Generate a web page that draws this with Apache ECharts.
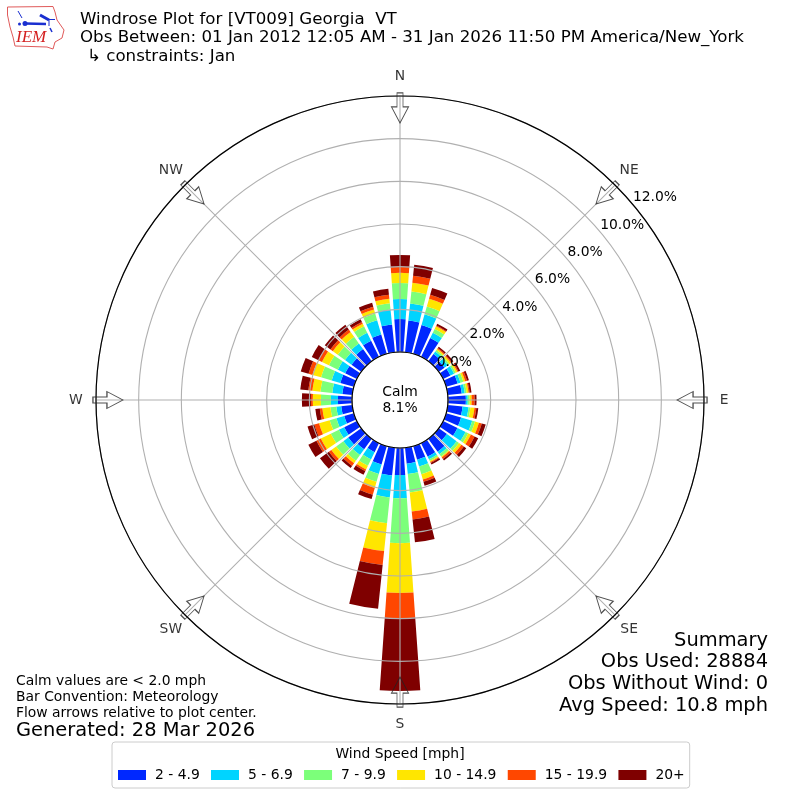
<!DOCTYPE html>
<html><head><meta charset="utf-8">
<style>html,body{margin:0;padding:0;background:#fff}#c{width:800px;height:800px}</style>
<script src="https://cdn.jsdelivr.net/npm/echarts@6/dist/echarts.min.js"></script>
</head><body><div id="c"></div>
<script>
const directions = [0,10,20,30,40,50,60,70,80,90,100,110,120,130,140,150,160,170,180,190,200,210,220,230,240,250,260,270,280,290,300,310,320,330,340,350];
const speedNames = ['2 - 4.9','5 - 6.9','7 - 9.9','10 - 14.9','15 - 19.9','20+'];
const speedColors = ['#0028ff','#00d4ff','#7cff7a','#ffe600','#ff4700','#7f0000'];
const s2to5 = [1.55,1.50,1.41,.98,.42,.33,.38,.56,.66,.84,.70,.73,.75,.47,.75,.70,.66,.75,1.27,1.31,.89,.47,.61,.75,.66,.47,.52,.66,.47,.66,.61,.56,.70,.84,.94,1.31];
const s5to7 = [.94,.80,.52,.28,.14,.19,.19,.14,.14,.09,.28,.54,.42,.56,.14,.14,.33,.49,1.08,1.03,.47,.38,.33,.28,.28,.38,.23,.33,.47,.42,.38,.38,.33,.42,.70,.70];
const s7to10 = [.75,.56,.38,.19,.09,.09,.09,.14,.09,.09,.09,.14,.14,.14,.14,.09,.38,.87,2.11,1.22,.38,.33,.33,.42,.42,.33,.28,.47,.56,.52,.47,.42,.38,.33,.33,.30];
const s10to15 = [.47,.42,.38,.14,.07,.09,.09,.09,.09,.09,.19,.19,.14,.14,.05,.05,.26,.89,2.34,1.31,.30,.19,.14,.28,.52,.52,.38,.38,.38,.42,.36,.28,.28,.14,.19,.21];
const s15to20 = [.28,.33,.19,.05,.05,.05,.05,.09,.05,.14,.09,.14,.19,.14,.09,.05,.11,.38,1.17,.66,.33,.09,.16,.14,.23,.23,.12,.09,.19,.19,.18,.14,.14,.09,.14,.19];
const s20plus = [.56,.52,.33,.09,.07,.09,.09,.09,.09,.09,.09,.19,.19,.14,.09,.09,.19,1.08,3.42,2.06,.21,.19,.12,.52,.42,.33,.21,.42,.38,.38,.35,.33,.28,.14,.19,.28];
const speedValues = [s2to5,s5to7,s7to10,s10to15,s15to20,s20plus];
const compassAngles = [0,45,90,135,180,225,270,315];
const compassNames = {0:'N',45:'NE',90:'E',135:'SE',180:'S',225:'SW',270:'W',315:'NW'};
const arrowRadius = 11.44;
const compassLabelRadius = 12.94;
const titleLines = ['Windrose Plot for [VT009] Georgia  VT','Obs Between: 01 Jan 2012 12:05 AM - 31 Jan 2026 11:50 PM America/New_York','↳ constraints: Jan'];
const summaryLines = ['Summary','Obs Used: 28884','Obs Without Wind: 0','Avg Speed: 10.8 mph'];
const noteLines = ['Calm values are < 2.0 mph','Bar Convention: Meteorology','Flow arrows relative to plot center.'];
const generated = 'Generated: 28 Mar 2026';
const FONT = '"DejaVu Sans"';
const arrowPath = 'path://M5.5 0L11.5 0L11.5 14L17 14L8.5 30L0 14L5.5 14Z';

const txt = (x,y,text,size,align='left',extra={}) => ({type:'text',x,y,silent:true,z:20,style:Object.assign({text,font:size+'px '+FONT,fill:'#000',textAlign:align,textVerticalAlign:'middle'},extra)});
const sw = {stroke:'#e05a5a',fill:'none',lineWidth:1};
const blue = {stroke:'#1a2fd0',fill:'none',lineWidth:2.5};
const graphics = [
  {type:'polygon',silent:true,shape:{points:[[7.5,7],[53,6.5],[55,12],[57,20],[64,30],[62,38],[55,42],[53,49],[47,47],[15,46],[13,37],[10,27],[7.5,15]]},style:sw},
  {type:'line',silent:true,shape:{x1:25,y1:23.5,x2:46,y2:24},style:blue},
  {type:'line',silent:true,shape:{x1:40,y1:15,x2:49,y2:20},style:{stroke:'#1a2fd0',lineWidth:3}},
  {type:'line',silent:true,shape:{x1:49,y1:19.5,x2:55,y2:19.5},style:{stroke:'#1a2fd0',lineWidth:1}},
  {type:'line',silent:true,shape:{x1:49,y1:20,x2:49,y2:26},style:{stroke:'#1a2fd0',lineWidth:1}},
  {type:'line',silent:true,shape:{x1:18,y1:11,x2:22,y2:18},style:{stroke:'#1a2fd0',lineWidth:1}},
  {type:'line',silent:true,shape:{x1:50,y1:28,x2:52,y2:32},style:{stroke:'#1a2fd0',lineWidth:1.5}},
  {type:'circle',silent:true,shape:{cx:25,cy:23.5,r:2.5},style:{fill:'#1a2fd0'}},
  {type:'circle',silent:true,shape:{cx:19.5,cy:24,r:1.5},style:{fill:'#1a2fd0'}},
  {type:'text',silent:true,x:16,y:38,style:{text:'IEM',font:'italic 17px "Liberation Serif"',fill:'#d42020',textVerticalAlign:'middle'}},
  txt(80,20,titleLines[0],16.67), txt(80,38,titleLines[1],16.67), txt(87,57,titleLines[2],16.67),
  txt(768,641,summaryLines[0],19.45,'right'), txt(768,662,summaryLines[1],19.45,'right'), txt(768,684,summaryLines[2],19.45,'right'), txt(768,706,summaryLines[3],19.45,'right'),
  txt(16,681,noteLines[0],13.89), txt(16,697,noteLines[1],13.89), txt(16,713,noteLines[2],13.89), txt(16,731,generated,19.45),
  txt(400,392,'Calm',13.89,'center'), txt(400,408,'8.1%',13.89,'center'),
  txt(400,754,'Wind Speed [mph]',13.89,'center')
];

const barSeries = speedNames.map((name,i)=>({
  name,type:'bar',coordinateSystem:'polar',polarIndex:0,stack:'wind',barWidth:'80%',
  silent:true,z:2,animation:false,itemStyle:{color:speedColors[i]},data:speedValues[i]
}));
const arrows = {
  type:'scatter',coordinateSystem:'polar',polarIndex:1,silent:true,z:8,animation:false,
  symbol:arrowPath,symbolSize:[17,30],symbolKeepAspect:false,
  symbolRotate:(v)=>-v[1],
  itemStyle:{color:'rgba(255,255,255,0)',borderColor:'#222',borderWidth:1},
  data:compassAngles.map(a=>[arrowRadius,a])
};
const compassLabels = {
  type:'scatter',coordinateSystem:'polar',polarIndex:1,silent:true,z:9,animation:false,clip:false,
  symbolSize:1,itemStyle:{color:'rgba(255,255,255,0)'},
  label:{show:true,position:'inside',align:'center',verticalAlign:'middle',color:'#000',fontSize:13.89,fontFamily:FONT,
    formatter:p=>compassNames[p.value[1]]},
  data:compassAngles.map(a=>[compassLabelRadius,a])
};

const chart = echarts.init(document.getElementById('c'),null,{renderer:'canvas'});
const pr = ['48','304'];
chart.setOption({
  animation:false,
  backgroundColor:'#fff',
  textStyle:{fontFamily:FONT},
  polar:[{center:[400,400],radius:pr},{center:[400,400],radius:pr},{center:[400,400],radius:pr}],
  angleAxis:[
    {polarIndex:0,type:'category',data:directions,startAngle:95,clockwise:true,boundaryGap:true,
     axisLine:{show:false},axisTick:{show:false},axisLabel:{show:false},splitLine:{show:false}},
    {polarIndex:1,type:'value',min:0,max:360,interval:45,startAngle:90,clockwise:true,z:5,
     axisLine:{show:true,lineStyle:{color:'#000',width:1.2}},axisTick:{show:false},axisLabel:{show:false},
     splitLine:{show:true,lineStyle:{color:'#b0b0b0',width:1.1}}},
    {polarIndex:2,type:'value',min:0,max:360,interval:90,startAngle:40,clockwise:true,
     axisLine:{show:false},axisTick:{show:false},axisLabel:{show:false},splitLine:{show:false}}
  ],
  radiusAxis:[
    {polarIndex:0,type:'value',min:0,max:12,interval:2,axisLine:{show:false},axisTick:{show:false},axisLabel:{show:false},splitLine:{show:false}},
    {polarIndex:1,type:'value',min:0,max:12,interval:2,z:5,axisLine:{show:false},axisTick:{show:false},axisLabel:{show:false},
     splitLine:{show:true,lineStyle:{color:'#b0b0b0',width:1.1}}},
    {polarIndex:2,type:'value',min:0,max:12,interval:2,z:9,axisLine:{show:false},axisTick:{show:false},splitLine:{show:false},
     axisLabel:{show:true,margin:0,color:'#000',fontSize:13.89,fontFamily:FONT,align:'left',verticalAlign:'bottom',formatter:v=>v.toFixed(1)+'%',hideOverlap:false,showMinLabel:true,showMaxLabel:true}}
  ],
  legend:{
    show:true,data:speedNames,left:112,top:742,orient:'horizontal',itemWidth:28,itemHeight:10,itemGap:11.3,icon:'rect',
    padding:[26,5,6,6],backgroundColor:'#fff',borderColor:'#ccc',borderWidth:1,borderRadius:3,selectedMode:false,
    textStyle:{fontFamily:FONT,fontSize:13.89,color:'#000',padding:[0,0,0,4]}
  },
  graphic:{elements:graphics},
  series:[...barSeries,arrows,compassLabels]
});
</script></body></html>
